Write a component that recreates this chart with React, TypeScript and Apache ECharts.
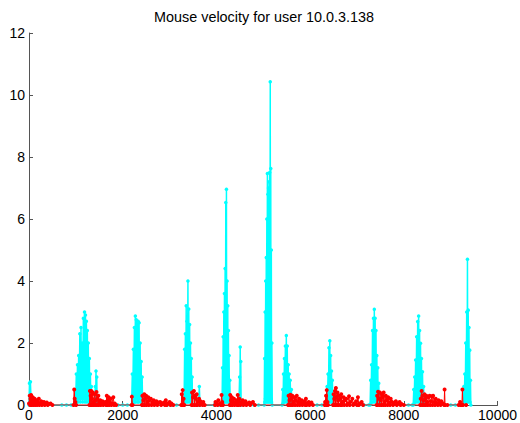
import React, { useEffect, useRef } from "react";
import * as echarts from "echarts";

const titleText = "Mouse velocity for user 10.0.3.138";
const xTicks = [0, 2000, 4000, 6000, 8000, 10000];
const yTicks = [0, 2, 4, 6, 8, 10, 12];

// cyan: fast movement segments [time, velocity]
const cyan0: [number, number][] = [[0, 0], [10, 0.7], [20, 0.1], [30, 0.75], [45, 0.1], [60, 0], [700, 0], [800, 0], [900, 0]];
const cyan1: [number, number][] = [[960, 0], [985, 0.5], [995, 0.05], [1010, 1.0], [1020, 0.1], [1035, 1.3], [1045, 0.1], [1060, 1.6], [1070, 0.2], [1085, 2.3], [1095, 0.1], [1110, 2.5], [1120, 0.2], [1135, 2.0], [1145, 0.1], [1160, 2.8], [1170, 0.2], [1185, 3.0], [1195, 0.1], [1205, 2.9], [1215, 0.2], [1225, 2.7], [1235, 0.1], [1245, 2.4], [1255, 0.2], [1265, 2.0], [1275, 0.1], [1288, 1.5], [1298, 0.1], [1310, 1.0], [1320, 0.1], [1332, 0.6], [1340, 0], [1400, 0], [1415, 0.6], [1422, 0.05], [1430, 1.1], [1438, 0.1], [1446, 0.9], [1455, 0], [1900, 0], [2000, 0], [2100, 0]];
const cyan2: [number, number][] = [[2190, 0], [2205, 1.0], [2213, 0.05], [2228, 1.8], [2236, 0.1], [2250, 2.5], [2258, 0.1], [2270, 2.87], [2278, 0.1], [2290, 2.75], [2298, 0.2], [2310, 2.6], [2318, 0.1], [2330, 2.7], [2338, 0.1], [2350, 2.65], [2358, 0.2], [2372, 2.0], [2380, 0.1], [2394, 1.4], [2402, 0.1], [2415, 0.9], [2425, 0], [2950, 0], [3050, 0], [3150, 0]];
const cyan3: [number, number][] = [[3310, 0], [3322, 1.8], [3329, 0.1], [3338, 2.3], [3345, 0.1], [3355, 3.2], [3362, 0.2], [3372, 2.7], [3380, 0.1], [3392, 4.0], [3400, 0.2], [3410, 3.1], [3418, 0.1], [3428, 2.6], [3436, 0.2], [3446, 2.0], [3454, 0.1], [3464, 1.5], [3472, 0.1], [3482, 0.9], [3490, 0], [3620, 0], [3635, 0.6], [3650, 0], [3950, 0], [4050, 0]];
const cyan4: [number, number][] = [[4120, 0], [4130, 1.2], [4136, 0.1], [4144, 2.2], [4150, 0.1], [4158, 3.0], [4164, 0.2], [4172, 3.6], [4178, 0.1], [4186, 4.4], [4192, 0.2], [4200, 6.53], [4206, 0.1], [4214, 6.96], [4220, 0.2], [4228, 4.0], [4234, 0.1], [4242, 3.2], [4248, 0.2], [4256, 2.4], [4262, 0.1], [4270, 1.6], [4278, 0.1], [4286, 0.8], [4295, 0], [4480, 0], [4495, 0.9], [4501, 0.1], [4508, 1.87], [4514, 0.1], [4520, 1.4], [4527, 0.1], [4535, 0], [4800, 0], [4900, 0]];
const cyan5: [number, number][] = [[5020, 0], [5028, 1.5], [5033, 0.1], [5040, 3.0], [5045, 0.2], [5052, 4.0], [5057, 0.1], [5064, 4.76], [5069, 0.2], [5076, 6.0], [5081, 0.1], [5088, 7.47], [5093, 0.2], [5100, 6.8], [5105, 0.1], [5112, 7.0], [5117, 0.2], [5124, 7.2], [5129, 0.1], [5136, 7.5], [5141, 0.2], [5149, 10.43], [5154, 0.1], [5160, 7.63], [5165, 0.2], [5172, 5.0], [5177, 0.1], [5184, 2.0], [5192, 0]];
const cyan6: [number, number][] = [[5400, 0], [5415, 0.5], [5422, 0.05], [5432, 1.0], [5440, 0.1], [5452, 1.5], [5460, 0.1], [5472, 1.9], [5480, 0.2], [5492, 2.24], [5500, 0.1], [5512, 1.9], [5520, 0.2], [5532, 1.3], [5540, 0.1], [5552, 1.0], [5560, 0.1], [5575, 0.8], [5585, 0.1], [5600, 0.5], [5612, 0], [6150, 0], [6250, 0]];
const cyan7: [number, number][] = [[6350, 0], [6362, 0.6], [6370, 0.05], [6382, 1.0], [6390, 0.1], [6402, 1.85], [6410, 0.1], [6420, 2.07], [6428, 0.2], [6438, 1.6], [6446, 0.1], [6456, 1.1], [6464, 0.1], [6475, 0.8], [6485, 0], [7150, 0], [7250, 0]];
const cyan8: [number, number][] = [[7280, 0], [7292, 0.8], [7300, 0.05], [7312, 1.3], [7320, 0.1], [7332, 2.4], [7340, 0.2], [7352, 2.8], [7360, 0.1], [7370, 3.09], [7378, 0.2], [7388, 2.8], [7396, 0.1], [7406, 2.4], [7414, 0.2], [7424, 1.6], [7432, 0.1], [7444, 1.2], [7452, 0.1], [7465, 0.7], [7478, 0.1], [7490, 0], [8100, 0], [8180, 0]];
const cyan9: [number, number][] = [[8200, 0], [8212, 0.5], [8220, 0.05], [8232, 0.9], [8240, 0.1], [8252, 1.45], [8260, 0.1], [8274, 2.2], [8282, 0.2], [8296, 2.69], [8304, 0.1], [8316, 2.87], [8324, 0.2], [8336, 2.4], [8344, 0.1], [8356, 1.99], [8364, 0.2], [8376, 1.5], [8384, 0.1], [8398, 1.07], [8408, 0.1], [8422, 0.6], [8435, 0], [9000, 0], [9100, 0], [9200, 0]];
const cyan10: [number, number][] = [[9270, 0], [9282, 0.6], [9290, 0.05], [9302, 1.0], [9310, 0.1], [9322, 2.0], [9330, 0.2], [9342, 3.0], [9350, 0.1], [9358, 4.7], [9365, 0.2], [9374, 3.06], [9381, 0.1], [9390, 2.5], [9397, 0.2], [9406, 1.77], [9413, 0.1], [9422, 0.8], [9430, 0]];

// red: slow movement segments
const red0: [number, number][] = [[0, 0.05], [15, 0.3], [22, 0], [30, 0.2], [45, 0.32], [52, 0], [60, 0.1], [80, 0.25], [90, 0], [100, 0.15], [120, 0.2], [130, 0], [140, 0.08], [160, 0.15], [172, 0], [185, 0.1], [210, 0.2], [222, 0], [235, 0.05], [260, 0.12], [275, 0], [290, 0.08], [320, 0.1], [335, 0], [350, 0.05], [380, 0.08], [400, 0], [420, 0.03], [460, 0.05], [500, 0]];
const red1: [number, number][] = [[950, 0], [965, 0.5], [975, 0.2], [990, 0.1], [1005, 0], [1290, 0], [1300, 0.45], [1308, 0], [1315, 0.3], [1330, 0.45], [1338, 0], [1345, 0.2], [1360, 0.4], [1370, 0], [1380, 0.1], [1400, 0.35], [1410, 0], [1420, 0.15], [1440, 0.42], [1450, 0], [1460, 0.2], [1480, 0.3], [1490, 0], [1500, 0.1], [1520, 0.15], [1532, 0], [1545, 0.08], [1570, 0.12], [1585, 0], [1600, 0.05], [1630, 0.1], [1645, 0], [1660, 0.3], [1670, 0], [1680, 0.15], [1700, 0.25], [1710, 0], [1720, 0.1], [1745, 0.2], [1758, 0], [1770, 0.05], [1800, 0.25], [1815, 0], [1830, 0.05], [1860, 0]];
const red2: [number, number][] = [[2190, 0], [2195, 0.27], [2210, 0], [2410, 0], [2420, 0.3], [2430, 0], [2440, 0.15], [2460, 0.35], [2470, 0], [2480, 0.2], [2500, 0.3], [2510, 0], [2520, 0.1], [2545, 0.25], [2558, 0], [2570, 0.15], [2600, 0.2], [2615, 0], [2630, 0.08], [2660, 0.15], [2675, 0], [2690, 0.05], [2720, 0.12], [2740, 0], [2760, 0.08], [2800, 0.1], [2820, 0], [2840, 0.05], [2880, 0.08], [2900, 0], [2920, 0.15], [2940, 0], [2960, 0.05], [3000, 0.1], [3020, 0], [3040, 0.05], [3080, 0]];
const red3: [number, number][] = [[3250, 0], [3260, 0.35], [3270, 0], [3280, 0.48], [3290, 0], [3300, 0.2], [3315, 0], [3470, 0], [3480, 0.4], [3490, 0], [3500, 0.25], [3520, 0.45], [3530, 0], [3540, 0.3], [3560, 0.2], [3570, 0], [3580, 0.35], [3590, 0], [3600, 0.1], [3630, 0.2], [3645, 0], [3660, 0.12], [3690, 0.05], [3705, 0], [3720, 0.1], [3750, 0]];
const red4: [number, number][] = [[3970, 0], [3980, 0.1], [4010, 0.05], [4025, 0], [4040, 0.15], [4080, 0.05], [4095, 0], [4110, 0.32], [4125, 0.1], [4140, 0], [4285, 0], [4295, 0.32], [4302, 0], [4310, 0.15], [4330, 0.25], [4340, 0], [4350, 0.1], [4375, 0.2], [4388, 0], [4400, 0.08], [4430, 0.15], [4442, 0], [4455, 0.32], [4462, 0], [4470, 0.1], [4490, 0.2], [4510, 0], [4530, 0.1], [4560, 0.15], [4575, 0], [4590, 0.05], [4620, 0.12], [4640, 0], [4660, 0.05], [4700, 0.08], [4720, 0], [4740, 0.05], [4780, 0.1], [4820, 0]];
const red6: [number, number][] = [[5530, 0], [5540, 0.3], [5550, 0], [5560, 0.15], [5580, 0.33], [5590, 0], [5600, 0.2], [5620, 0.3], [5630, 0], [5640, 0.1], [5665, 0.25], [5678, 0], [5690, 0.15], [5715, 0.3], [5728, 0], [5740, 0.1], [5765, 0.2], [5778, 0], [5790, 0.08], [5820, 0.15], [5835, 0], [5850, 0.05], [5880, 0.12], [5895, 0], [5910, 0.2], [5925, 0], [5940, 0.05], [5970, 0.1], [5985, 0], [6000, 0.05], [6030, 0.08], [6060, 0]];
const red7: [number, number][] = [[6310, 0], [6320, 0.1], [6340, 0.3], [6348, 0], [6355, 0.48], [6370, 0.1], [6380, 0], [6490, 0], [6500, 0.35], [6508, 0], [6515, 0.2], [6530, 0.45], [6540, 0], [6550, 0.55], [6565, 0.25], [6575, 0], [6585, 0.4], [6600, 0.15], [6610, 0], [6620, 0.3], [6640, 0.2], [6652, 0], [6665, 0.35], [6678, 0], [6690, 0.1], [6715, 0.25], [6728, 0], [6740, 0.15], [6770, 0.2], [6785, 0], [6800, 0.05], [6830, 0.28], [6845, 0], [6860, 0.1], [6900, 0.2], [6920, 0], [6940, 0.05], [6980, 0.12], [7000, 0], [7020, 0.25], [7040, 0], [7060, 0.05], [7100, 0.1], [7130, 0]];
const red8: [number, number][] = [[7420, 0], [7430, 0.3], [7440, 0], [7450, 0.43], [7470, 0.2], [7480, 0], [7490, 0.4], [7510, 0.15], [7520, 0], [7530, 0.35], [7550, 0.25], [7560, 0], [7570, 0.4], [7590, 0.1], [7602, 0], [7615, 0.3], [7640, 0.15], [7652, 0], [7665, 0.25], [7690, 0.08], [7705, 0], [7720, 0.2], [7750, 0.1], [7770, 0], [7790, 0.05], [7830, 0.12], [7850, 0], [7870, 0.05], [7910, 0.1], [7930, 0], [7950, 0.03], [8000, 0]];
const red9: [number, number][] = [[8350, 0], [8360, 0.2], [8380, 0.45], [8390, 0], [8400, 0.3], [8420, 0.15], [8430, 0], [8440, 0.35], [8460, 0.2], [8470, 0], [8480, 0.3], [8500, 0.1], [8512, 0], [8525, 0.25], [8550, 0.3], [8562, 0], [8575, 0.12], [8600, 0.28], [8612, 0], [8625, 0.3], [8650, 0.1], [8665, 0], [8680, 0.2], [8710, 0.05], [8725, 0], [8740, 0.15], [8770, 0.08], [8785, 0], [8800, 0.12], [8840, 0.05], [8860, 0], [8870, 0.5], [8880, 0], [8930, 0]];
const red10: [number, number][] = [[9170, 0], [9200, 0.1], [9215, 0], [9240, 0], [9250, 0.5], [9262, 0], [9330, 0]];

const cyanData = [...cyan0, ...cyan1, ...cyan2, ...cyan3, ...cyan4, ...cyan5, ...cyan6, ...cyan7, ...cyan8, ...cyan9, ...cyan10];
const redData = [...red0, ...red1, ...red2, ...red3, ...red4, ...red6, ...red7, ...red8, ...red9, ...red10];

export default function App() {
  const ref = useRef<HTMLDivElement>(null);
  useEffect(() => {
    const chart = echarts.init(ref.current!, undefined, { renderer: "svg" });
    const font = "'Liberation Sans', Arial, Helvetica, sans-serif";
    chart.setOption({
      animation: false,
      backgroundColor: "#ffffff",
      title: {
        text: titleText,
        left: 154,
        top: 10,
        padding: 0,
        textStyle: { fontFamily: font, fontSize: 14.4, fontWeight: "normal", color: "#000" },
      },
      grid: { left: 29, right: 21, top: 33, bottom: 18 },
      xAxis: {
        type: "value",
        min: 0,
        max: 10000,
        interval: 2000,
        splitLine: { show: false },
        axisLine: { show: true, lineStyle: { color: "#555", width: 1 } },
        axisTick: { show: true, inside: true, length: 4, lineStyle: { color: "#555" } },
        axisLabel: {
          margin: 3,
          color: "#000",
          fontFamily: font,
          fontSize: 14,
          customValues: xTicks,
          formatter: (v: number) => String(v),
        },
      },
      yAxis: {
        type: "value",
        min: 0,
        max: 12,
        interval: 2,
        splitLine: { show: false },
        axisLine: { show: true, lineStyle: { color: "#555", width: 1 } },
        axisTick: { show: true, inside: true, length: 4, lineStyle: { color: "#555" } },
        axisLabel: {
          margin: 4,
          color: "#000",
          fontFamily: font,
          fontSize: 14,
          customValues: yTicks,
          formatter: (v: number) => String(v),
        },
      },
      series: [
        {
          type: "line",
          data: cyanData,
          showSymbol: true,
          symbol: "circle",
          symbolSize: 3.5,
          itemStyle: { color: "#00ffff" },
          lineStyle: { color: "#00ffff", width: 1.5 },
          z: 2,
        },
        {
          type: "line",
          data: redData,
          showSymbol: true,
          symbol: "circle",
          symbolSize: 4,
          itemStyle: { color: "#ff0000" },
          lineStyle: { color: "#ff0000", width: 1 },
          z: 3,
        },
      ],
    });
    return () => chart.dispose();
  }, []);
  return <div ref={ref} style={{ width: 520, height: 423, position: "absolute", left: 0, top: 0 }} />;
}
